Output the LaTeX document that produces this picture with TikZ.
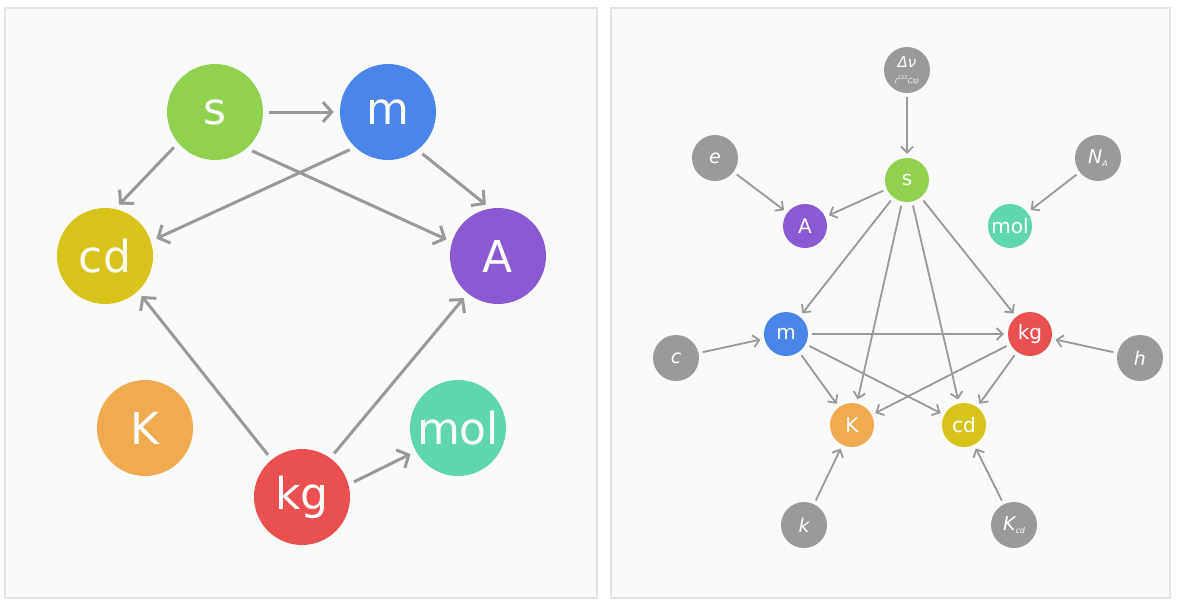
\documentclass[tikz,border=0pt]{standalone}
\usepackage{fontspec}
\setmainfont{DejaVu Sans}
\usetikzlibrary{arrows.meta}
\definecolor{cgreen}{HTML}{92D050}
\definecolor{cblue}{HTML}{4A86E8}
\definecolor{cyellow}{HTML}{D6C41A}
\definecolor{cpurple}{HTML}{895AD2}
\definecolor{corange}{HTML}{F0AA50}
\definecolor{cred}{HTML}{EB5050}
\definecolor{cteal}{HTML}{5FD6AF}
\definecolor{cgray}{HTML}{9A9A9A}
\definecolor{carrow}{HTML}{999999}
\definecolor{panelfill}{HTML}{FAFAFA}
\definecolor{panelline}{HTML}{E4E4E4}
\begin{document}
\begin{tikzpicture}[x=1pt,y=-1pt,
  panel/.style={fill=panelfill, draw=panelline, line width=1.5pt},
  bignode/.style={circle, minimum size=96pt, inner sep=0pt, text=white,
    font=\fontsize{44}{44}\selectfont},
  smallnode/.style={circle, minimum size=44pt, inner sep=0pt, text=white,
    font=\fontsize{20}{20}\selectfont},
  constnode/.style={circle, minimum size=46pt, inner sep=0pt, text=white, fill=cgray,
    font=\fontsize{19}{19}\selectfont\itshape},
  bigarrow/.style={draw=carrow, line width=3pt,
    -{Straight Barb[length=9pt,width=20pt]}, shorten >=6pt, shorten <=6pt},
  smallarrow/.style={draw=carrow, line width=1.8pt,
    -{Straight Barb[length=6pt,width=12pt]}, shorten >=4pt, shorten <=4pt}]
\useasboundingbox (0,0) rectangle (1193,603);
\fill[white] (0,0) rectangle (1193,603);
\draw[panel] (5,8) rectangle (597,598);
\draw[panel] (611,8) rectangle (1170,598);

% ---------- left panel ----------
\node[bignode, fill=cgreen]  (s)   at (215,112) {s};
\node[bignode, fill=cblue]   (m)   at (388,112) {m};
\node[bignode, fill=cyellow] (cd)  at (105,256) {cd};
\node[bignode, fill=cpurple] (A)   at (498,256) {A};
\node[bignode, fill=corange] (K)   at (145,428) {K};
\node[bignode, fill=cred]    (kg)  at (302,497) {kg};
\node[bignode, fill=cteal]   (mol) at (458,428) {mol};

\draw[bigarrow] (s) -- (m);
\draw[bigarrow] (s.220) -- (cd.78);
\draw[bigarrow] (m.227) -- (cd.18);
\draw[bigarrow] (s.311) -- (A.163);
\draw[bigarrow] (m.308) -- (A.99);
\draw[bigarrow] (kg.129) -- (cd.313);
\draw[bigarrow] (kg.54) -- (A.231);
\draw[bigarrow] (kg.15) -- (mol.209);

% ---------- right panel ----------
\node[constnode, align=center] (dv) at (907,70)
  {\fontsize{15}{13}\selectfont Δν\\[-3pt]{\fontsize{7}{7}\selectfont(\textsuperscript{133}Cs)}};
\node[smallnode, fill=cgreen]  (rs)   at (907,180) {s};
\node[constnode] (e) at (715,158) {e};
\node[smallnode, fill=cpurple] (rA)   at (805,226) {A};
\node[constnode] (NA) at (1098,158) {N{\fontsize{8}{8}\selectfont\raisebox{-3pt}{A}}};
\node[smallnode, fill=cteal]   (rmol) at (1010,226) {mol};
\node[smallnode, fill=cblue]   (rm)   at (786,334) {m};
\node[smallnode, fill=cred]    (rkg)  at (1030,334) {kg};
\node[constnode] (c) at (676,358) {c};
\node[constnode] (h) at (1140,358) {h};
\node[smallnode, fill=corange] (rK)   at (852,425) {K};
\node[smallnode, fill=cyellow] (rcd)  at (964,425) {cd};
\node[constnode] (k) at (804,525) {k};
\node[constnode] (Kcd) at (1014,525) {K{\fontsize{8}{8}\selectfont\raisebox{-3pt}{cd}}};

\draw[smallarrow] (dv) -- (rs);
\draw[smallarrow] (e) -- (rA);
\draw[smallarrow] (NA) -- (rmol);
\draw[smallarrow] (rs) -- (rA);
\draw[smallarrow] (rs) -- (rm);
\draw[smallarrow] (rs) -- (rK);
\draw[smallarrow] (rs) -- (rcd);
\draw[smallarrow] (rs) -- (rkg);
\draw[smallarrow] (c) -- (rm);
\draw[smallarrow] (h) -- (rkg);
\draw[smallarrow] (rm) -- (rkg);
\draw[smallarrow] (rm) -- (rK);
\draw[smallarrow] (rm) -- (rcd);
\draw[smallarrow] (rkg) -- (rK);
\draw[smallarrow] (rkg) -- (rcd);
\draw[smallarrow] (k) -- (rK);
\draw[smallarrow] (Kcd) -- (rcd);
\end{tikzpicture}
\end{document}
